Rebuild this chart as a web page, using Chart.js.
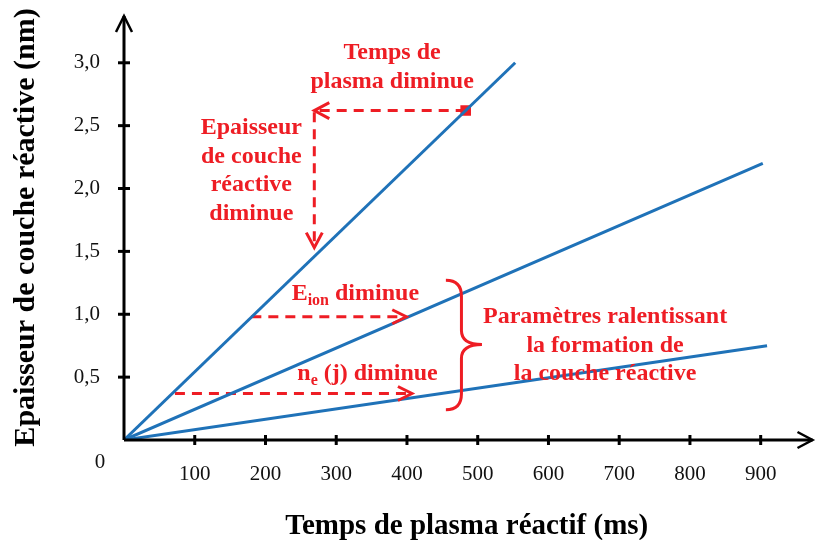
<!DOCTYPE html>
<html>
<head>
<meta charset="utf-8">
<script src="https://cdn.jsdelivr.net/npm/chart.js@4.4.1/dist/chart.umd.min.js"></script>
<style>
  html, body { margin: 0; padding: 0; background: #fff; }
  canvas { display: block; }
</style>
</head>
<body>
<canvas id="chart" width="817" height="540"></canvas>
<script>
// graduations
const xTicks = [100, 200, 300, 400, 500, 600, 700, 800, 900];
const xTickLabels = ['100', '200', '300', '400', '500', '600', '700', '800', '900'];
const yTicks = [0.5, 1.0, 1.5, 2.0, 2.5, 3.0];
const yTickLabels = ['0,5', '1,0', '1,5', '2,0', '2,5', '3,0'];

// les trois droites (temps en ms, epaisseur en nm)
const fastX = [0, 553];
const fastY = [0, 3.0];
const midX = [0, 903];
const midY = [0, 2.2];
const slowX = [0, 909];
const slowY = [0, 0.75];

// fleches en pointilles
const plasmaArrowX = [483, 269, 269];
const plasmaArrowY = [2.62, 2.62, 1.53];
const ionArrowX = [180, 399];
const ionArrowY = [0.98, 0.98];
const neArrowX = [72, 407];
const neArrowY = [0.37, 0.37];
const markerX = [483];
const markerY = [2.62];

const RED = '#ee1d24';
const BLUE = '#1f72b8';
const SERIF = '"Liberation Serif", "Times New Roman", serif';

function pts(xs, ys) {
  return xs.map((x, i) => ({ x: x, y: ys[i] }));
}

function chevron(ctx, tx, ty, dx, dy, len, half) {
  const bx = tx - dx * len, by = ty - dy * len;
  ctx.beginPath();
  ctx.moveTo(bx - dy * half, by + dx * half);
  ctx.lineTo(tx, ty);
  ctx.lineTo(bx + dy * half, by - dx * half);
  ctx.stroke();
}

const drawing = {
  id: 'drawing',
  afterDatasetsDraw(chart) {
    const ctx = chart.ctx;
    const sx = chart.scales.x, sy = chart.scales.y;
    const area = chart.chartArea;
    const px = v => sx.getPixelForValue(v);
    const py = v => sy.getPixelForValue(v);
    const x0 = px(0), y0 = py(0);
    const xEnd = Math.min(area.right + 3, chart.width - 2);

    ctx.save();
    // axes
    ctx.strokeStyle = '#000';
    ctx.lineWidth = 3;
    ctx.lineCap = 'butt';
    ctx.beginPath();
    ctx.moveTo(x0, y0);
    ctx.lineTo(xEnd, y0);
    ctx.moveTo(x0, y0);
    ctx.lineTo(x0, area.top + 1);
    ctx.stroke();
    xTicks.forEach(v => {
      ctx.beginPath();
      ctx.moveTo(px(v), y0 - 5);
      ctx.lineTo(px(v), y0 + 5);
      ctx.stroke();
    });
    yTicks.forEach(v => {
      ctx.beginPath();
      ctx.moveTo(x0 - 6, py(v));
      ctx.lineTo(x0 + 6, py(v));
      ctx.stroke();
    });
    ctx.lineWidth = 2.5;
    chevron(ctx, xEnd, y0, 1, 0, 15, 8);
    chevron(ctx, x0, area.top + 1, 0, -1, 16, 8);

    ctx.fillStyle = '#111';
    ctx.font = '21px ' + SERIF;
    ctx.textAlign = 'center';
    ctx.textBaseline = 'middle';
    ctx.fillText('0', x0 - 24, y0 + 22);

    // pointes de fleches rouges
    ctx.strokeStyle = RED;
    ctx.lineWidth = 3;
    ctx.setLineDash([]);
    chevron(ctx, px(plasmaArrowX[1]), py(plasmaArrowY[1]), -1, 0, 15, 8);
    chevron(ctx, px(plasmaArrowX[2]), py(plasmaArrowY[2]), 0, 1, 15, 8);
    chevron(ctx, px(ionArrowX[1]), py(ionArrowY[1]), 1, 0, 14, 7);
    chevron(ctx, px(neArrowX[1]), py(neArrowY[1]), 1, 0, 14, 7);

    // accolade
    const L = px(455), V = px(477), P = px(506);
    const T = py(1.27), M = py(0.76), B = py(0.24);
    ctx.beginPath();
    ctx.moveTo(L, T);
    ctx.quadraticCurveTo(V, T, V, T + 16);
    ctx.lineTo(V, M - 14);
    ctx.quadraticCurveTo(V, M, P, M);
    ctx.quadraticCurveTo(V, M, V, M + 14);
    ctx.lineTo(V, B - 16);
    ctx.quadraticCurveTo(V, B, L, B);
    ctx.stroke();

    // textes rouges
    ctx.fillStyle = RED;
    ctx.textBaseline = 'alphabetic';
    ctx.textAlign = 'center';
    const big = 'bold 24px ' + SERIF;
    const small = 'bold 16px ' + SERIF;
    ctx.font = big;
    const block = (lines, cx, cy) => {
      lines.forEach((t, i) => ctx.fillText(t, px(cx), py(cy) + i * 28.5));
    };
    block(['Temps de', 'plasma diminue'], 379, 3.03);
    block(['Epaisseur', 'de couche', 'réactive', 'diminue'], 180, 2.43);
    block(['Paramètres ralentissant', 'la formation de', 'la couche réactive'], 680, 0.93);

    ctx.textAlign = 'left';
    const sub = (main, idx, rest, cx, cy) => {
      let x = px(cx);
      const y = py(cy);
      ctx.font = big;
      ctx.fillText(main, x, y);
      x += ctx.measureText(main).width;
      ctx.font = small;
      ctx.fillText(idx, x, y + 5);
      x += ctx.measureText(idx).width;
      ctx.font = big;
      ctx.fillText(rest, x, y);
    };
    sub('E', 'ion', ' diminue', 237, 1.11);
    sub('n', 'e', ' (j) diminue', 245, 0.48);
    ctx.restore();
  }
};

new Chart(document.getElementById('chart'), {
  type: 'scatter',
  data: {
    datasets: [
      { data: pts(fastX, fastY), showLine: true, borderColor: BLUE, borderWidth: 3, pointRadius: 0 },
      { data: pts(midX, midY), showLine: true, borderColor: BLUE, borderWidth: 3, pointRadius: 0 },
      { data: pts(slowX, slowY), showLine: true, borderColor: BLUE, borderWidth: 3, pointRadius: 0 },
      { data: pts(plasmaArrowX, plasmaArrowY), showLine: true, borderColor: RED, borderWidth: 3, borderDash: [10, 7], pointRadius: 0 },
      { data: pts(ionArrowX, ionArrowY), showLine: true, borderColor: RED, borderWidth: 3, borderDash: [10, 7], pointRadius: 0 },
      { data: pts(neArrowX, neArrowY), showLine: true, borderColor: RED, borderWidth: 3, borderDash: [10, 7], pointRadius: 0 },
      { data: pts(markerX, markerY), pointStyle: 'rect', pointRadius: 7.5, backgroundColor: RED, borderColor: RED, borderWidth: 0 }
    ]
  },
  options: {
    responsive: false,
    animation: false,
    devicePixelRatio: 1,
    layout: { padding: { top: 15, right: 0, left: 0, bottom: 0 } },
    plugins: { legend: { display: false }, tooltip: { enabled: false } },
    scales: {
      x: {
        type: 'linear',
        min: 0,
        max: 969,
        afterBuildTicks: s => { s.ticks = xTicks.map(v => ({ value: v })); },
        afterFit: s => { s.height = 100; s.paddingLeft = 0; s.paddingRight = 0; },
        grid: { display: false, drawTicks: false },
        border: { display: false },
        ticks: {
          padding: 22,
          color: '#111',
          font: { family: SERIF, size: 21 },
          callback: (v, i) => xTickLabels[i]
        },
        title: {
          display: true,
          text: 'Temps de plasma réactif (ms)',
          color: '#000',
          font: { family: SERIF, size: 29, weight: 'bold', lineHeight: 1 },
          padding: { top: 0, bottom: -1 }
        }
      },
      y: {
        type: 'linear',
        min: 0,
        max: 3.38,
        afterBuildTicks: s => { s.ticks = yTicks.map(v => ({ value: v })); },
        afterFit: s => { s.width = 124; s.paddingTop = 0; s.paddingBottom = 0; },
        grid: { display: false, drawTicks: false },
        border: { display: false },
        ticks: {
          padding: 24,
          color: '#111',
          font: { family: SERIF, size: 21 },
          callback: (v, i) => yTickLabels[i]
        },
        title: {
          display: true,
          text: 'Epaisseur de couche réactive (nm)',
          color: '#000',
          font: { family: SERIF, size: 30, weight: 'bold', lineHeight: 1 },
          padding: { top: 11, bottom: 0 }
        }
      }
    }
  },
  plugins: [drawing]
});
</script>
</body>
</html>
